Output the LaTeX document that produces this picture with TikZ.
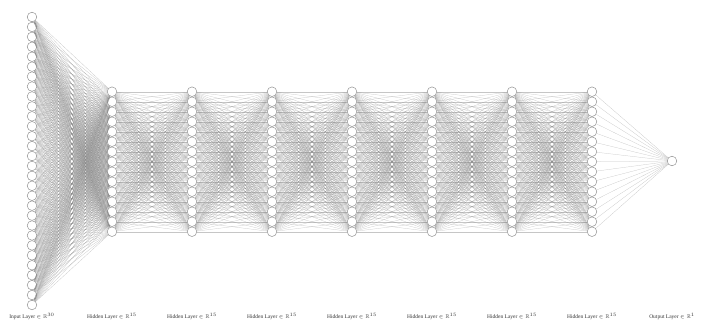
\documentclass[tikz,border=0pt]{standalone}
\usepackage{amssymb}
\usepackage{fontspec}
\setmainfont{Liberation Serif}
\begin{document}
\begin{tikzpicture}[x=1pt,y=-1pt,
  neuron/.style={circle,draw=gray!85,fill=white,line width=0.5pt,minimum size=9.6pt,inner sep=0pt},
  edge/.style={draw=gray,line width=0.25pt,opacity=0.45},
  lbl/.style={font=\fontsize{5.5}{6}\selectfont,text=black!80}]
\useasboundingbox (0,0) rectangle (710,329);
% input layer
\foreach \i in {1,...,30}
  \node[neuron] (a\i) at (32,{17+(\i-1)*9.93}) {};
% hidden layers
\foreach \x [count=\k] in {112,192,272,352,432,512,592}
  \foreach \i in {1,...,15}
    \node[neuron] (h\k-\i) at (\x,{91.7+(\i-1)*10}) {};
% output
\node[neuron] (o) at (672,161) {};
% edges
\foreach \i in {1,...,30}
  \foreach \j in {1,...,15}
    \draw[edge] (a\i) -- (h1-\j);
\foreach \k in {1,...,6} {
  \pgfmathtruncatemacro{\n}{\k+1}
  \foreach \i in {1,...,15}
    \foreach \j in {1,...,15}
      \draw[edge] (h\k-\i) -- (h\n-\j);
}
\foreach \i in {1,...,15}
  \draw[edge] (h7-\i) -- (o);
% labels
\node[lbl] (t0) at (32,316) {Input Layer $\in \mathbb{R}^{\scriptscriptstyle 30}$};
\foreach \x [count=\k] in {112,192,272,352,432,512,592}
  \node[lbl] (t\k) at (\x,316) {Hidden Layer $\in \mathbb{R}^{\scriptscriptstyle 15}$};
\node[lbl] (t8) at (672,316) {Output Layer $\in \mathbb{R}^{\scriptscriptstyle 1}$};
\end{tikzpicture}
\end{document}
